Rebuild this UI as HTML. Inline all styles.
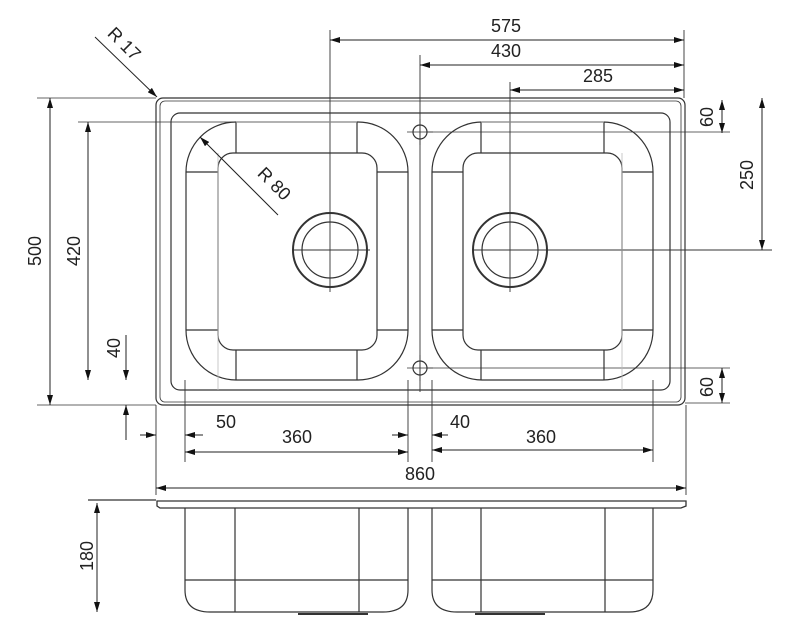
<!DOCTYPE html>
<html><head><meta charset="utf-8"><style>
html,body{margin:0;padding:0;background:#fff;}
svg{display:block;}
text{font-family:"Liberation Sans",sans-serif;font-size:18px;fill:#222;}
</style></head><body>
<svg width="791" height="640" viewBox="0 0 791 640" xmlns="http://www.w3.org/2000/svg">
<defs>
<marker id="a" viewBox="0 0 10 6" refX="10" refY="3" markerWidth="10" markerHeight="6" markerUnits="userSpaceOnUse" orient="auto-start-reverse"><path d="M0,0L10,3L0,6z" fill="#111"/></marker>
</defs>
<g fill="none" stroke="#333" stroke-width="1.2">
<!-- outer rim -->
<rect x="156" y="98" width="529" height="307" rx="7"/>
<rect x="160" y="101" width="521" height="301" rx="5" stroke-width="0.8"/>
<rect x="171" y="113" width="499" height="277" rx="9"/>
<!-- left bowl -->
<rect x="186" y="122" width="222" height="258" rx="50"/>
<rect x="218" y="153" width="159" height="197" rx="15"/>
<path d="M236,122V153M357,122V153M236,380V350M357,380V350M186,172H218M186,330H218M408,172H377M408,330H377"/>
<!-- right bowl -->
<rect x="432" y="122" width="221" height="258" rx="50"/>
<rect x="463" y="153" width="159" height="197" rx="15"/>
<path d="M481,122V153M604,122V153M481,380V350M604,380V350M432,172H463M432,330H463M653,172H622M653,330H622"/>
<!-- drains -->
<circle cx="330" cy="250" r="37" stroke-width="2"/><circle cx="330" cy="250" r="28"/>
<circle cx="510" cy="250" r="37" stroke-width="2"/><circle cx="510" cy="250" r="28"/>
<circle cx="420" cy="132" r="7"/><circle cx="420" cy="368" r="7"/>
<path d="M407,132H433M420,119V145M407,368H433M420,355V381" stroke-width="0.8"/>
<!-- center/ext lines -->
<path d="M330,30V292M292,250H370M420,55V392M510,82V292M472,250H772M684,30V98M408,380V462M432,380V462M185,380V462M653,380V462M156,405V495M686,405V495" stroke-width="0.9"/>
<path d="M427,132H730M427,368H730M685,403H730M37,98H156M37,405H156M78,122H240" stroke-width="0.8"/>
<path d="M218,153V390M236,122H357M481,122H604M622,153V390" stroke="#bbb" stroke-width="0.8"/>
<!-- dims -->
<g stroke="#222" stroke-width="1">
<path d="M330,40H684" marker-start="url(#a)" marker-end="url(#a)"/>
<path d="M420,65H684" marker-start="url(#a)" marker-end="url(#a)"/>
<path d="M510,90H684" marker-start="url(#a)" marker-end="url(#a)"/>
<path d="M50,98V405" marker-start="url(#a)" marker-end="url(#a)"/>
<path d="M88,122V380" marker-start="url(#a)" marker-end="url(#a)"/>
<path d="M126,335V380" marker-end="url(#a)"/>
<path d="M126,440V405" marker-end="url(#a)"/>
<path d="M722,100V133" marker-start="url(#a)" marker-end="url(#a)"/>
<path d="M722,368V403" marker-start="url(#a)" marker-end="url(#a)"/>
<path d="M762,98V250" marker-start="url(#a)" marker-end="url(#a)"/>
<path d="M140,435H156" marker-end="url(#a)"/>
<path d="M203,435H185" marker-end="url(#a)"/>
<path d="M392,435H408" marker-end="url(#a)"/>
<path d="M448,435H432" marker-end="url(#a)"/>
<path d="M185,452H408" marker-start="url(#a)" marker-end="url(#a)"/>
<path d="M432,450H653" marker-start="url(#a)" marker-end="url(#a)"/>
<path d="M156,488H686" marker-start="url(#a)" marker-end="url(#a)"/>
<path d="M97,503V612" marker-start="url(#a)" marker-end="url(#a)"/>
<path d="M95,37L157,97" marker-end="url(#a)"/>
<path d="M278,215L200,137" marker-end="url(#a)"/>
</g>
<!-- side view -->
<path d="M88,500H156"/>
<path d="M157,501H686V506L681,508H160L157,506Z" stroke-width="1.3"/>
<path d="M185,508V590Q185,612 210,612H383Q408,612 408,590V508M432,508V590Q432,612 457,612H629Q653,612 653,590V508M185,580H408M432,580H653M235,508V612M359,508V612M481,508V612M605,508V612"/>
<path d="M298,614H368M475,614H545" stroke-width="2"/>
</g>
<g>
<text x="506" y="32" text-anchor="middle">575</text>
<text x="506" y="57" text-anchor="middle">430</text>
<text x="598" y="82" text-anchor="middle">285</text>
<text x="226" y="428" text-anchor="middle">50</text>
<text x="297" y="443" text-anchor="middle">360</text>
<text x="460" y="428" text-anchor="middle">40</text>
<text x="541" y="443" text-anchor="middle">360</text>
<text x="420" y="480" text-anchor="middle">860</text>
<text transform="translate(41,251) rotate(-90)" text-anchor="middle">500</text>
<text transform="translate(80,251) rotate(-90)" text-anchor="middle">420</text>
<text transform="translate(120,348) rotate(-90)" text-anchor="middle">40</text>
<text transform="translate(713,117) rotate(-90)" text-anchor="middle">60</text>
<text transform="translate(713,387) rotate(-90)" text-anchor="middle">60</text>
<text transform="translate(753,175) rotate(-90)" text-anchor="middle">250</text>
<text transform="translate(93,556) rotate(-90)" text-anchor="middle">180</text>
<text transform="translate(120,48) rotate(45)" text-anchor="middle">R 17</text>
<text transform="translate(270,188) rotate(45)" text-anchor="middle">R 80</text>
</g>
</svg>
</body></html>
